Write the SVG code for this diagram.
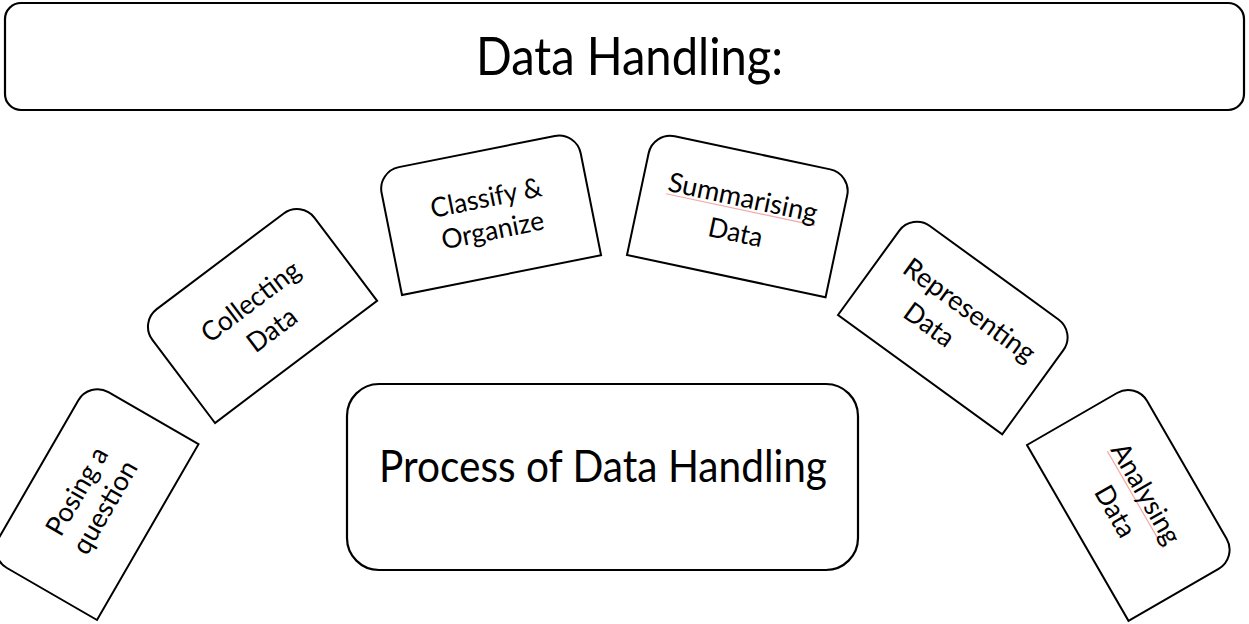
<svg xmlns="http://www.w3.org/2000/svg" width="1249" height="624" viewBox="0 0 1249 624">
  <defs>
    <style>
      .box { fill: #ffffff; stroke: #000000; stroke-width: 2.2; }
      .tab { fill: #ffffff; stroke: #000000; stroke-width: 2; stroke-linejoin: miter; }
      .lbl { font-family: Lato, "Open Sans", sans-serif; font-size: 27px; fill: #000000; text-anchor: middle; }
      .big { font-family: Lato, "Open Sans", sans-serif; fill: #000000; text-anchor: middle; }
      .squiggle { stroke: #f2a9a9; stroke-width: 1.2; fill: none; }
    </style>
    <!-- card with the two top corners rounded; origin at the bottom-left corner -->
    <path id="card" d="M0,0 V-104 A22,22 0 0 1 22,-126 H181 A22,22 0 0 1 203,-104 V0 Z"/>
  </defs>

  <g id="title">
    <rect class="box" x="5" y="3" width="1239" height="107" rx="16" ry="16"/>
    <text class="big" x="629.5" y="75" font-size="52" textLength="307" lengthAdjust="spacingAndGlyphs">Data Handling:</text>
  </g>

  <g id="process">
    <rect class="box" x="347" y="384" width="511" height="186" rx="32" ry="32"/>
    <text class="big" x="603" y="482" font-size="45" textLength="448" lengthAdjust="spacingAndGlyphs">Process of Data Handling</text>
  </g>

  <g id="connectors"></g>

  <g id="posing" transform="translate(97,620) rotate(-60)">
    <use href="#card" class="tab"/>
    <text class="lbl" x="101.5" y="-72.5" textLength="97" lengthAdjust="spacingAndGlyphs">Posing a</text>
    <text class="lbl" x="101.5" y="-40.5" textLength="103" lengthAdjust="spacingAndGlyphs">question</text>
  </g>

  <g id="collecting" transform="translate(215,423) rotate(-37)">
    <use href="#card" class="tab"/>
    <text class="lbl" x="101.5" y="-66.5" textLength="116" lengthAdjust="spacingAndGlyphs">Collecting</text>
    <text class="lbl" x="101.5" y="-31" textLength="55" lengthAdjust="spacingAndGlyphs">Data</text>
  </g>

  <g id="classify" transform="translate(402,295) rotate(-11.3)">
    <use href="#card" class="tab"/>
    <text class="lbl" x="101.5" y="-69.5" textLength="113" lengthAdjust="spacingAndGlyphs">Classify &amp;</text>
    <text class="lbl" x="101.5" y="-36.5" textLength="104" lengthAdjust="spacingAndGlyphs">Organize</text>
  </g>

  <g id="summarising" transform="translate(627,255) rotate(12)">
    <use href="#card" class="tab"/>
    <line class="squiggle" x1="25.5" y1="-68" x2="177.5" y2="-68"/>
    <text class="lbl" x="101.5" y="-71" textLength="152" lengthAdjust="spacingAndGlyphs">Summarising</text>
    <text class="lbl" x="101.5" y="-35.5" textLength="55" lengthAdjust="spacingAndGlyphs">Data</text>
  </g>

  <g id="representing" transform="translate(838,315) rotate(36)">
    <use href="#card" class="tab"/>
    <text class="lbl" x="103.5" y="-72" textLength="156" lengthAdjust="spacingAndGlyphs">Representing</text>
    <text class="lbl" x="79.5" y="-36.5" textLength="55" lengthAdjust="spacingAndGlyphs">Data</text>
  </g>

  <g id="analysing" transform="translate(1027,445) rotate(60)">
    <use href="#card" class="tab"/>
    <line class="squiggle" x1="45.5" y1="-66.5" x2="157.5" y2="-66.5"/>
    <text class="lbl" x="101.5" y="-69.5" textLength="112" lengthAdjust="spacingAndGlyphs">Analysing</text>
    <text class="lbl" x="101.5" y="-34" textLength="55" lengthAdjust="spacingAndGlyphs">Data</text>
  </g>
</svg>
